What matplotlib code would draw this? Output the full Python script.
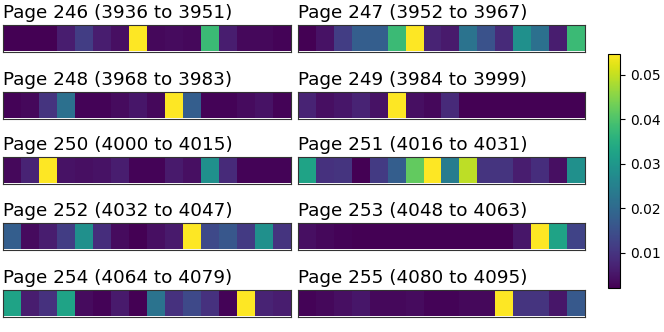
import numpy as np
import matplotlib
matplotlib.use("Agg")
import matplotlib.pyplot as plt

pages = [246, 247, 248, 249, 250, 251, 252, 253, 254, 255]
titles = [f"Page {p} ({p*16} to {p*16+15})" for p in pages]

p246 = [0.0021,0.0021,0.0021,0.0063,0.0116,0.0063,0.0042,0.0547,0.0032,0.0037,0.0032,0.0379,0.0063,0.0032,0.0032,0.0026]
p247 = [0.0021,0.0047,0.0116,0.0179,0.0179,0.0379,0.0547,0.0074,0.0058,0.0221,0.0153,0.0084,0.0284,0.0216,0.0063,0.0379]
p248 = [0.0026,0.0032,0.0100,0.0216,0.0026,0.0026,0.0037,0.0053,0.0032,0.0547,0.0179,0.0026,0.0026,0.0037,0.0047,0.0026]
p249 = [0.0074,0.0042,0.0053,0.0074,0.0047,0.0547,0.0042,0.0032,0.0084,0.0021,0.0021,0.0021,0.0021,0.0021,0.0021,0.0021]
p250 = [0.0032,0.0074,0.0547,0.0047,0.0042,0.0047,0.0063,0.0026,0.0026,0.0058,0.0042,0.0284,0.0084,0.0026,0.0026,0.0026]
p251 = [0.0326,0.0095,0.0100,0.0021,0.0110,0.0179,0.0421,0.0547,0.0242,0.0494,0.0100,0.0100,0.0063,0.0089,0.0042,0.0284]
p252 = [0.0179,0.0037,0.0063,0.0116,0.0284,0.0089,0.0037,0.0021,0.0042,0.0058,0.0547,0.0137,0.0163,0.0110,0.0284,0.0100]
p253 = [0.0042,0.0032,0.0026,0.0021,0.0021,0.0021,0.0021,0.0021,0.0021,0.0021,0.0021,0.0021,0.0053,0.0547,0.0326,0.0126]
p254 = [0.0326,0.0063,0.0095,0.0326,0.0037,0.0026,0.0058,0.0021,0.0221,0.0095,0.0137,0.0095,0.0026,0.0547,0.0074,0.0063]
p255 = [0.0026,0.0032,0.0042,0.0053,0.0032,0.0032,0.0037,0.0026,0.0026,0.0032,0.0032,0.0547,0.0100,0.0100,0.0053,0.0168]
series = [p246, p247, p248, p249, p250, p251, p252, p253, p254, p255]

cbar_ticks = [0.01, 0.02, 0.03, 0.04, 0.05]

W, H = 664, 332
fig = plt.figure(figsize=(W/100, H/100), dpi=100)

vmin = min(min(s) for s in series)
vmax = max(max(s) for s in series)

col_x = [3, 298]
col_w = [288, 287]
row_top = [25, 92, 157, 223, 290]
row_h = 26.5

im = None
for i, (vals, t) in enumerate(zip(series, titles)):
    r, c = divmod(i, 2)
    x0 = col_x[c]; w = col_w[c]
    y0 = row_top[r]
    ax = fig.add_axes([x0/W, 1-(y0+row_h)/H, w/W, row_h/H])
    im = ax.imshow(np.array(vals)[None, :], cmap='viridis', vmin=vmin, vmax=vmax, aspect='auto')
    ax.set_xticks([]); ax.set_yticks([])
    for s in ax.spines.values():
        s.set_edgecolor('#333333')
    ax.set_title(t, loc='left', fontsize=13.2, pad=5)

cax = fig.add_axes([608/W, 1-288/H, 12/W, (288-54)/H])
cb = fig.colorbar(im, cax=cax, ticks=cbar_ticks)
cb.ax.tick_params(labelsize=10)
cb.ax.set_yticklabels([f"{t:.2f}" for t in cbar_ticks])

fig.savefig("out.png", dpi=100)
